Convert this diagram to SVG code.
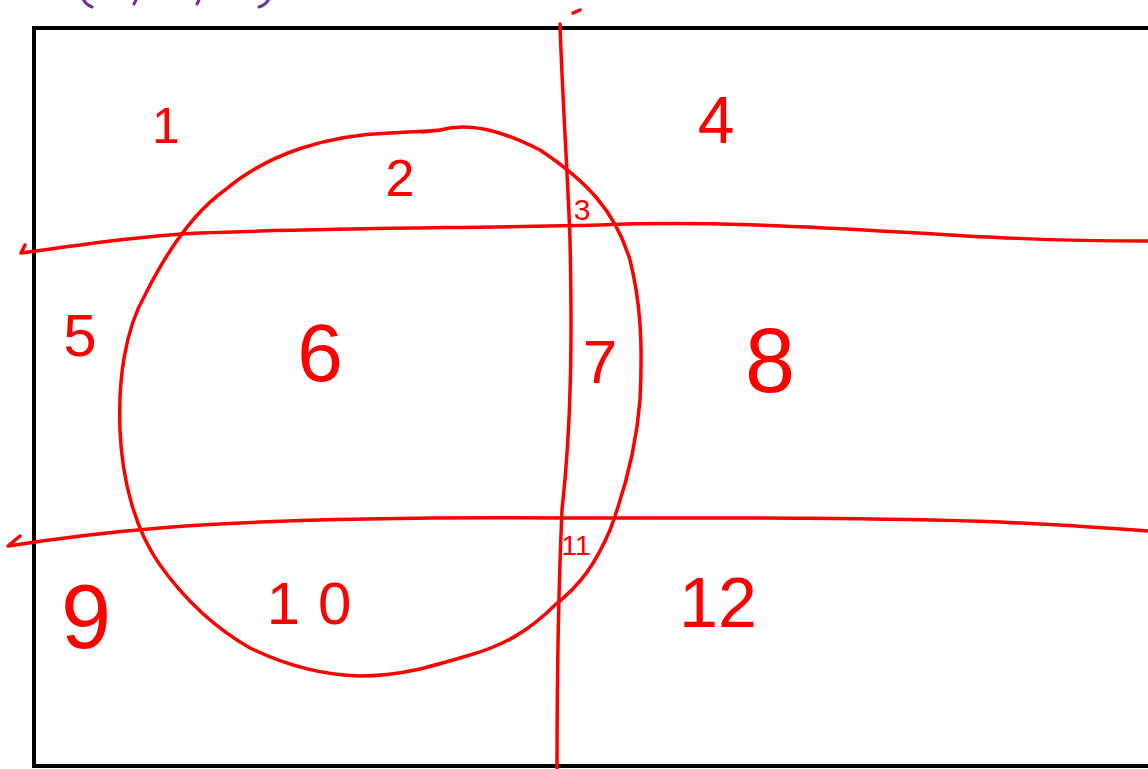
<svg xmlns="http://www.w3.org/2000/svg" width="1148" height="769" viewBox="0 0 1148 769">
<style>
.ink{fill:none;stroke:#ff0000;stroke-width:3.5;stroke-linecap:round;stroke-linejoin:round}
.purple{fill:none;stroke:#7030a0;stroke-width:3;stroke-linecap:round}
.lbl{fill:#ff0000;font-family:"Liberation Sans",Arial,sans-serif;text-anchor:middle}
</style>
<rect width="1148" height="769" fill="#ffffff"/>
<g id="top-marks">
<path class="purple" d="M82,-4 Q84,4 92,7"/>
<path class="purple" d="M137,-2 L134,4"/>
<path class="purple" d="M200,-2 L197,4"/>
<path class="purple" d="M270,-4 Q268,4 259,7"/>
</g>
<g id="frame">
<path d="M1150,28 L34,28 L34,766 L1150,766" fill="none" stroke="#000" stroke-width="4"/>
</g>
<g id="lines">
<path class="ink" d="M573,13 L580,10"/>
<path class="ink" d="M560,24 C562,90 568,180 570,240 C572,330 572,420 562,510 C558,600 557,690 557,769"/>
<path class="ink" d="M25,245 L21,253 C80,245 140,236 200,233 C320,228 480,228 600,225 C700,221 800,226 900,232 C980,237 1050,241 1148,241"/>
<path class="ink" d="M20,536 L8,546 C60,538 110,532 160,528 C260,520 400,517 560,518 C700,518 850,517 1000,522 C1060,525 1110,528 1148,531"/>
<path class="ink" d="M423,132 L440,130 M440,130 C470,122 500,130 540,150 C585,180 615,210 630,260 C640,300 643,340 640,400 C636,450 625,490 610,530 C595,565 580,585 555,605 C530,630 505,645 470,655 C430,667 400,676 360,676 C320,675 285,665 250,648 C215,628 185,600 160,565 C135,530 122,480 120,430 C118,380 125,330 145,295 C165,255 190,215 225,190 C270,152 330,135 390,133 C410,132 430,131 440,130"/>
</g>
<g id="labels">
<text class="lbl" x="166" y="143" font-size="50">1</text>
<text class="lbl" x="400" y="196" font-size="52">2</text>
<text class="lbl" x="582" y="220" font-size="30">3</text>
<text class="lbl" x="716" y="143" font-size="66">4</text>
<text class="lbl" x="80" y="356" font-size="60">5</text>
<text class="lbl" x="320" y="381" font-size="82">6</text>
<text class="lbl" x="600" y="383" font-size="62">7</text>
<text class="lbl" x="770" y="392" font-size="90">8</text>
<text class="lbl" x="86" y="648" font-size="90">9</text>
<text class="lbl" x="318" y="624" font-size="60" letter-spacing="18">10</text>
<text class="lbl" x="576" y="555" font-size="28">11</text>
<text class="lbl" x="718" y="627" font-size="70">12</text>
</g>
</svg>
